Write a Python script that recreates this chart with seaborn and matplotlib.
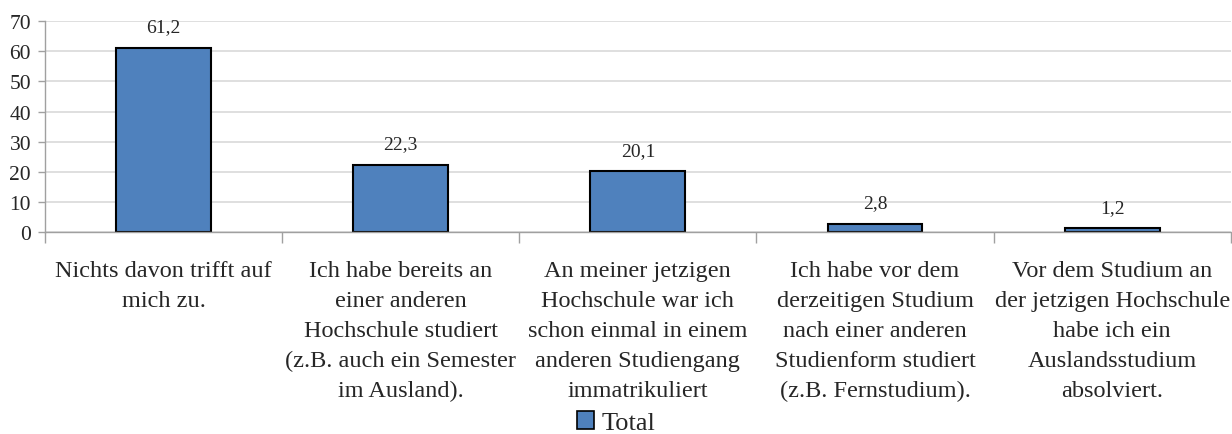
import pandas as pd
import numpy as np
import matplotlib.pyplot as plt
import seaborn as sns
from matplotlib.patches import Patch

categories = [
    'Nichts davon trifft auf\nmich zu.',
    'Ich habe bereits an\neiner anderen\nHochschule studiert\n(z.B. auch ein Semester\nim Ausland).',
    'An meiner jetzigen\nHochschule war ich\nschon einmal in einem\nanderen Studiengang\nimmatrikuliert',
    'Ich habe vor dem\nderzeitigen Studium\nnach einer anderen\nStudienform studiert\n(z.B. Fernstudium).',
    'Vor dem Studium an\nder jetzigen Hochschule\nhabe ich ein\nAuslandsstudium\nabsolviert.',
]
values = [61.2, 22.3, 20.1, 2.8, 1.2]
yticks = [0, 10, 20, 30, 40, 50, 60, 70]

df = pd.DataFrame({'cat': categories, 'val': values})

sns.set_style('white')
plt.rcParams['font.family'] = ['Liberation Serif', 'DejaVu Serif']

fig = plt.figure(figsize=(12.32, 4.35), dpi=100)
ax = fig.add_axes([0.0365, 0.4644, 0.9625, 0.4846])

bar_color = '#4f81bd'
sns.barplot(data=df, x='cat', y='val', color=bar_color, width=0.4,
            edgecolor='black', linewidth=1.5, saturation=1, ax=ax)

ax.set_xlim(-0.5, len(categories) - 0.5)
ax.set_ylim(0, 70)
ax.set_yticks(yticks)
ax.set_yticklabels([str(t) for t in yticks], fontsize=15.5)
ax.yaxis.grid(True, color='#d9d9d9', linewidth=1.2)
ax.set_axisbelow(True)

# category labels centered, tick marks at boundaries
ax.set_xticks(range(len(categories)))
ax.set_xticklabels(categories, fontsize=17.5, linespacing=1.56)
ax.tick_params(axis='x', which='major', length=0, pad=20)
ax.set_xticks(np.arange(-0.5, len(categories)), minor=True)
ax.tick_params(axis='x', which='minor', length=8, color='#a0a0a0', width=1, direction='out', bottom=True)
ax.tick_params(axis='y', length=5, color='#a0a0a0', width=1, direction='out', left=True, pad=5)

for s in ['top', 'right']:
    ax.spines[s].set_visible(False)
for s in ['left', 'bottom']:
    ax.spines[s].set_color('#a0a0a0')
    ax.spines[s].set_linewidth(1)

for i, v in enumerate(values):
    ax.annotate(f'{v:.1f}'.replace('.', ','), (i, v), xytext=(0, 9),
                textcoords='offset points', ha='center', va='bottom', fontsize=14)

ax.set_xlabel('')
ax.set_ylabel('')

handles = [Patch(facecolor=bar_color, edgecolor='black', linewidth=1.2, label='Total')]
fig.legend(handles=handles, loc='center', bbox_to_anchor=(0.5, 0.026),
           frameon=False, fontsize=19, handlelength=0.65, handleheight=0.65,
           handletextpad=0.3, borderpad=0)

fig.savefig('out.png', dpi=100)
